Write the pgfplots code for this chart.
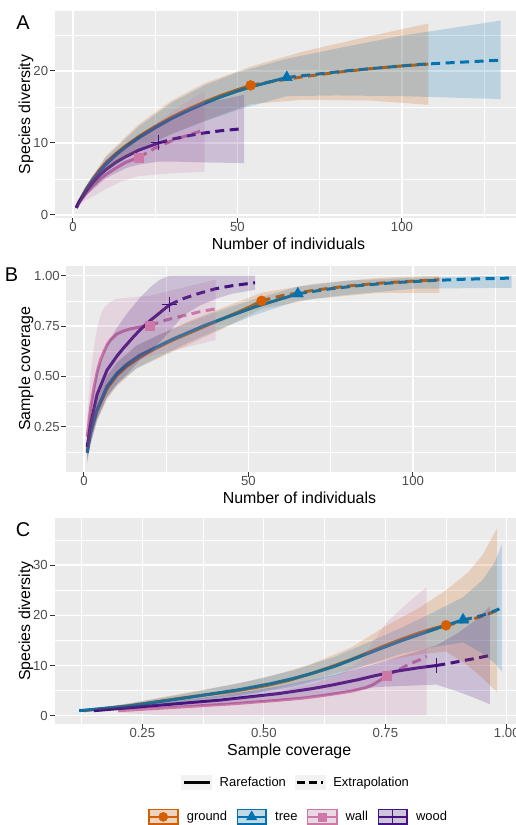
\documentclass[border=0pt]{standalone}
\usepackage{fontspec}
\setmainfont{Liberation Sans}
\usepackage{pgfplots}
\pgfplotsset{compat=1.18}
\definecolor{cGround}{HTML}{D55E00}
\definecolor{cTree}{HTML}{0072B2}
\definecolor{cWall}{HTML}{CC79A7}
\definecolor{cWood}{HTML}{46127F}
\definecolor{panelbg}{HTML}{EBEBEB}
\definecolor{gray30}{HTML}{4D4D4D}
\definecolor{gray20}{HTML}{333333}
\definecolor{keybg}{HTML}{F2F2F2}
\pgfplotsset{
  ggpanel/.style={
    scale only axis, anchor=south west,
    axis background/.style={fill=panelbg},
    axis line style={draw=none},
    grid=both,
    major grid style={draw=white, line width=1.2bp},
    minor grid style={draw=white, line width=0.6bp},
    tick align=outside, tick pos=left,
    major tick length=5bp, minor tick length=0bp,
    every tick/.style={draw=gray20, line width=1bp},
    tick label style={font=\fontsize{13.2}{14}\selectfont, text=gray30, inner sep=0pt},
    xticklabel style={anchor=north, yshift=1bp},
    every axis x label/.style={at={([yshift=-31.5bp]axis description cs:0.5,0)}, anchor=base, font=\fontsize{16}{18}\selectfont},
    clip=true,
  },
  rare/.style={line width=3bp, line join=round},
  extr/.style={line width=3bp, dash pattern=on 9bp off 5.5bp},
  band/.style={draw=none, fill opacity=0.2},
}
\begin{document}
\begin{tikzpicture}
\useasboundingbox (0,0) rectangle (516bp,825bp);
% ================= Panel A =================
\begin{axis}[ggpanel, at={(55bp,606.7bp)}, width=466.9bp, height=207.6bp,
  xmin=-5.45, xmax=136.45, ymin=-0.46, ymax=28.37,
  xtick={0,50,100}, xticklabels={0,50,100}, minor xtick={25,75,125},
  ytick={0,10,20}, yticklabels={0,10,20}, minor ytick={5,15,25},
  yticklabel style={anchor=east, xshift=-1.7bp},
  xlabel={Number of individuals},
  every axis y label/.style={at={([xshift=-25bp]axis description cs:0,0.5)}, rotate=90, anchor=base, font=\fontsize{16}{18}\selectfont},
  ylabel={Species diversity}]
\addplot[only marks, mark=*, mark size=5bp, color=cGround] coordinates {(54,18.0)};
\addplot[only marks, mark=triangle*, mark size=6.5bp, color=cTree] coordinates {(65,19.1)};
\addplot[only marks, mark=square*, mark size=4.5bp, color=cWall] coordinates {(20,8.0)};
\addplot[only marks, mark=+, mark size=7.5bp, color=cWood, line width=1bp] coordinates {(26,10.0)};
\addplot[rare, cGround] coordinates {(1,1) (2,1.95) (4,3.6) (6,5.0) (8,6.2) (10,7.2) (13,8.5) (16,9.6) (20,10.9) (25,12.3) (30,13.6) (35,14.7) (40,15.7) (45,16.6) (50,17.4) (54,18.0)};
\addplot[extr, cGround] coordinates {(54,18.0) (60,18.5) (70,19.2) (80,19.8) (90,20.3) (100,20.7) (108,20.95)};
\addplot[rare, cTree] coordinates {(1,1) (2,1.9) (4,3.5) (6,4.9) (8,6.0) (10,7.0) (13,8.3) (16,9.4) (20,10.7) (25,12.1) (30,13.4) (35,14.5) (40,15.5) (45,16.4) (50,17.2) (55,17.9) (60,18.5) (65,19.1)};
\addplot[extr, cTree] coordinates {(65,19.1) (75,19.6) (85,20.1) (95,20.5) (105,20.9) (115,21.15) (130,21.5)};
\addplot[rare, cWall] coordinates {(1,1) (2,1.8) (4,3.0) (6,4.0) (8,4.9) (10,5.6) (13,6.5) (16,7.3) (20,8.0)};
\addplot[extr, cWall] coordinates {(20,8.0) (25,9.3) (30,10.3) (35,11.1) (40,11.8)};
\addplot[rare, cWood] coordinates {(1,1) (2,1.9) (4,3.3) (6,4.5) (8,5.5) (10,6.3) (13,7.3) (16,8.1) (20,9.0) (23,9.5) (26,10.0)};
\addplot[extr, cWood] coordinates {(26,10) (30,10.5) (35,11.0) (40,11.4) (45,11.7) (52,12.0)};
\addplot[band, fill=cGround] coordinates {(1,1) (4,4.0) (10,8.2) (20,12.6) (30,15.9) (40,18.3) (54,20.6) (70,22.7) (90,24.8) (108,26.6) (108,15.3) (90,15.9) (70,16.0) (54,15.4) (40,13.1) (30,11.3) (20,9.2) (10,6.2) (4,3.2) (1,1)};
\addplot[band, fill=cTree] coordinates {(1,1) (4,3.9) (10,8.0) (20,12.3) (30,15.6) (40,18.0) (50,19.8) (65,21.7) (80,23.1) (100,24.9) (130,27.0) (130,16.1) (100,16.5) (80,16.6) (65,16.5) (50,14.6) (40,13.0) (30,11.2) (20,9.1) (10,6.0) (4,3.1) (1,1)};
\addplot[band, fill=cWall] coordinates {(1,1) (4,3.8) (6,5.5) (10,7.4) (16,9.5) (20,10.6) (25,12.5) (30,14.3) (35,15.8) (40,17.2) (40,6.0) (30,5.8) (20,5.4) (15,4.7) (10,3.6) (6,2.5) (4,2.1) (1,1)};
\addplot[band, fill=cWood] coordinates {(1,1) (4,3.9) (10,7.6) (16,9.7) (20,11.0) (26,12.7) (32,14.0) (40,15.5) (52,16.7) (52,7.2) (40,7.3) (32,7.4) (26,7.4) (20,7.0) (16,6.5) (10,5.1) (4,2.7) (1,1)};
\end{axis}
% ================= Panel B =================
\begin{axis}[ggpanel, at={(66bp,353.3bp)}, width=466.9bp, height=205.7bp,
  xmin=-5.45, xmax=136.45, ymin=0.0265, ymax=1.048,
  xtick={0,50,100}, xticklabels={0,50,100}, minor xtick={25,75,125},
  ytick={0.25,0.5,0.75,1}, yticklabels={0.25,0.50,0.75,1.00}, minor ytick={0.125,0.375,0.625,0.875},
  yticklabel style={anchor=east, xshift=-1bp},
  xlabel={Number of individuals},
  every axis y label/.style={at={([xshift=-36bp]axis description cs:0,0.5)}, rotate=90, anchor=base, font=\fontsize{16}{18}\selectfont},
  ylabel={Sample coverage}]
\addplot[only marks, mark=*, mark size=5bp, color=cGround] coordinates {(54,0.875)};
\addplot[only marks, mark=triangle*, mark size=6.5bp, color=cTree] coordinates {(65,0.91)};
\addplot[only marks, mark=square*, mark size=4.5bp, color=cWall] coordinates {(20,0.752)};
\addplot[only marks, mark=+, mark size=7.5bp, color=cWood, line width=1bp] coordinates {(26,0.855)};
\addplot[rare, cGround] coordinates {(1,0.13) (2,0.22) (4,0.33) (7,0.44) (10,0.505) (13,0.55) (17,0.595) (22,0.64) (27,0.68) (32,0.715) (37,0.75) (42,0.785) (47,0.82) (51,0.85) (54,0.875)};
\addplot[extr, cGround] coordinates {(54,0.875) (60,0.9) (70,0.928) (80,0.948) (90,0.963) (100,0.973) (108,0.98)};
\addplot[rare, cTree] coordinates {(1,0.12) (2,0.22) (4,0.335) (7,0.45) (10,0.515) (13,0.56) (17,0.605) (22,0.645) (27,0.685) (32,0.72) (37,0.755) (42,0.785) (47,0.815) (52,0.845) (58,0.875) (65,0.91)};
\addplot[extr, cTree] coordinates {(65,0.91) (75,0.935) (85,0.953) (95,0.966) (105,0.975) (115,0.982) (130,0.988)};
\addplot[rare, cWall] coordinates {(1,0.2) (2,0.34) (3,0.44) (4,0.52) (5,0.58) (6,0.62) (7,0.655) (8,0.68) (10,0.71) (12,0.725) (14,0.735) (17,0.745) (20,0.752)};
\addplot[extr, cWall] coordinates {(20,0.752) (25,0.78) (30,0.80) (35,0.82) (40,0.835)};
\addplot[rare, cWood] coordinates {(1,0.15) (2,0.26) (4,0.41) (7,0.53) (10,0.6) (12,0.64) (15,0.695) (17,0.73) (20,0.775) (23,0.815) (26,0.855)};
\addplot[extr, cWood] coordinates {(26,0.855) (30,0.885) (35,0.912) (40,0.935) (45,0.95) (52,0.965)};
\addplot[band, fill=cGround] coordinates {(1,0.19) (2,0.28) (4,0.39) (7,0.5) (10,0.565) (16,0.65) (22,0.70) (32,0.775) (42,0.84) (54,0.915) (70,0.96) (90,0.99) (108,1.0) (108,0.915) (90,0.915) (70,0.885) (54,0.835) (42,0.735) (32,0.66) (22,0.585) (16,0.54) (10,0.45) (7,0.385) (4,0.28) (2,0.17) (1,0.08)};
\addplot[band, fill=cTree] coordinates {(1,0.18) (2,0.28) (4,0.39) (7,0.505) (10,0.57) (16,0.655) (22,0.70) (32,0.77) (42,0.83) (52,0.885) (65,0.945) (80,0.975) (100,0.99) (130,1.0) (130,0.94) (100,0.935) (80,0.905) (65,0.875) (52,0.805) (42,0.74) (32,0.67) (22,0.59) (16,0.54) (10,0.46) (7,0.395) (4,0.28) (2,0.16) (1,0.07)};
\addplot[band, fill=cWall] coordinates {(1,0.3) (2,0.51) (3,0.64) (4,0.74) (5,0.8) (6,0.84) (8,0.87) (10,0.885) (13,0.89) (16,0.895) (20,0.9) (25,0.92) (30,0.94) (35,0.96) (40,0.98) (40,0.68) (35,0.66) (30,0.64) (25,0.62) (20,0.6) (16,0.58) (13,0.56) (10,0.52) (8,0.47) (6,0.4) (4,0.3) (2,0.17) (1,0.1)};
\addplot[band, fill=cWood] coordinates {(1,0.2) (2,0.35) (4,0.53) (7,0.66) (10,0.74) (13,0.81) (17,0.89) (20,0.94) (23,0.98) (26,1.0) (52,1.0) (52,0.93) (45,0.91) (40,0.885) (35,0.85) (30,0.8) (26,0.72) (23,0.67) (20,0.62) (17,0.58) (13,0.51) (10,0.46) (7,0.4) (4,0.29) (2,0.17) (1,0.1)};
\end{axis}
% ================= Panel C =================
\begin{axis}[ggpanel, at={(55bp,101bp)}, width=468.3bp, height=205.7bp,
  xmin=0.0703, xmax=1.034, ymin=-1.65, ymax=39.32,
  xtick={0.25,0.5,0.75,1}, xticklabels={0.25,0.50,0.75,1.00}, minor xtick={0.125,0.375,0.625,0.875},
  ytick={0,10,20,30}, yticklabels={0,10,20,30}, minor ytick={5,15,25,35},
  yticklabel style={anchor=east, xshift=-2bp},
  xlabel={Sample coverage},
  every axis y label/.style={at={([xshift=-25bp]axis description cs:0,0.5)}, rotate=90, anchor=base, font=\fontsize{16}{18}\selectfont},
  ylabel={Species diversity}]
\addplot[only marks, mark=*, mark size=5bp, color=cGround] coordinates {(0.875,18.0)};
\addplot[only marks, mark=triangle*, mark size=6.5bp, color=cTree] coordinates {(0.91,19.1)};
\addplot[only marks, mark=square*, mark size=4.5bp, color=cWall] coordinates {(0.752,8.0)};
\addplot[only marks, mark=+, mark size=7.5bp, color=cWood, line width=1bp] coordinates {(0.855,10.0)};
\addplot[rare, cGround] coordinates {(0.13,1) (0.22,1.95) (0.33,3.5) (0.44,4.9) (0.505,6.0) (0.55,7.0) (0.595,8.3) (0.64,9.8) (0.68,11.2) (0.715,12.6) (0.75,14.0) (0.785,15.3) (0.82,16.5) (0.85,17.4) (0.875,18.0)};
\addplot[extr, cGround] coordinates {(0.875,18.0) (0.9,18.5) (0.928,19.2) (0.948,19.8) (0.963,20.3) (0.973,20.7) (0.98,20.95)};
\addplot[rare, cTree] coordinates {(0.12,1) (0.22,1.9) (0.335,3.5) (0.45,5.2) (0.515,6.4) (0.56,7.4) (0.605,8.6) (0.645,9.8) (0.685,11.3) (0.72,12.6) (0.755,13.9) (0.785,15.0) (0.815,16.0) (0.845,17.0) (0.875,18.0) (0.91,19.1)};
\addplot[extr, cTree] coordinates {(0.91,19.1) (0.935,19.6) (0.953,20.1) (0.966,20.5) (0.975,20.9) (0.982,21.15) (0.988,21.5)};
\addplot[rare, cWall] coordinates {(0.2,1) (0.34,1.8) (0.44,2.4) (0.52,3.0) (0.58,3.5) (0.62,4.0) (0.655,4.5) (0.68,4.9) (0.71,5.6) (0.725,6.2) (0.735,6.8) (0.745,7.4) (0.752,8.0)};
\addplot[extr, cWall] coordinates {(0.752,8.0) (0.78,9.3) (0.8,10.3) (0.82,11.1) (0.835,11.8)};
\addplot[rare, cWood] coordinates {(0.15,1) (0.26,1.9) (0.41,3.1) (0.53,4.4) (0.6,5.4) (0.64,6.1) (0.695,7.2) (0.73,8.0) (0.775,8.9) (0.815,9.5) (0.855,10.0)};
\addplot[extr, cWood] coordinates {(0.855,10) (0.885,10.5) (0.912,11.0) (0.935,11.4) (0.95,11.7) (0.965,12.0)};
\addplot[band, fill=cGround] coordinates {(0.13,1) (0.22,2.4) (0.33,4.4) (0.44,6.3) (0.505,7.6) (0.595,10.2) (0.68,13.6) (0.75,17.8) (0.82,21.5) (0.875,25.0) (0.92,28.5) (0.95,32.0) (0.98,37.3) (0.98,4.7) (0.95,7.5) (0.92,10.0) (0.875,12.8) (0.82,12.2) (0.75,11.0) (0.68,9.3) (0.595,7.0) (0.505,5.0) (0.44,4.0) (0.33,2.8) (0.22,1.5) (0.13,1)};
\addplot[band, fill=cTree] coordinates {(0.12,1) (0.22,2.4) (0.335,4.3) (0.45,6.5) (0.56,9.0) (0.645,11.7) (0.72,14.8) (0.785,17.6) (0.845,20.4) (0.91,23.6) (0.95,27.0) (0.975,30.5) (0.99,34.2) (0.99,8.8) (0.975,10.5) (0.95,12.4) (0.91,14.6) (0.845,13.6) (0.785,12.4) (0.72,10.4) (0.645,7.9) (0.56,5.8) (0.45,3.9) (0.335,2.7) (0.22,1.4) (0.12,1)};
\addplot[band, fill=cWall] coordinates {(0.2,1) (0.3,1.9) (0.4,2.9) (0.5,4.2) (0.6,6.3) (0.65,8.0) (0.7,11.0) (0.752,18.5) (0.8,22.8) (0.835,25.6) (0.835,0.05) (0.3,0.05) (0.2,0.6)};
\addplot[band, fill=cWood] coordinates {(0.15,1) (0.26,2.3) (0.41,4.0) (0.53,5.8) (0.64,8.0) (0.73,10.3) (0.855,14.0) (0.9,16.5) (0.935,19.0) (0.965,21.7) (0.965,2.3) (0.935,3.5) (0.9,4.8) (0.855,6.2) (0.73,5.7) (0.64,4.2) (0.53,3.0) (0.41,2.2) (0.26,1.5) (0.15,1)};
\end{axis}
% ================= Legend: line type =================
\begin{axis}[at={(0bp,0bp)}, anchor=south west, scale only axis, width=516bp, height=825bp,
  hide axis, xmin=0, xmax=1, ymin=0, ymax=1,
  legend columns=2,
  legend style={at={(axis description cs:0.35078,0.05176)}, anchor=west, draw=none, fill=none,
    inner sep=0pt, outer sep=0pt, font=\fontsize{13}{14}\selectfont,
    nodes={inner sep=0pt},
    /tikz/every odd column/.style={column sep=8.3bp},
    /tikz/every even column/.style={column sep=8.7bp}},
  legend cell align=left]
\addlegendimage{legend image code/.code={\fill[keybg] (0bp,-7.2bp) rectangle (30bp,7.2bp); \draw[black, line width=2.7bp] (2.3bp,0bp) -- (28.3bp,0bp);}}
\addlegendentry{Rarefaction}
\addlegendimage{legend image code/.code={\fill[keybg] (0bp,-7.2bp) rectangle (30bp,7.2bp); \draw[black, line width=2.7bp, dash pattern=on 7.7bp off 4.3bp] (2.3bp,0bp) -- (28.3bp,0bp);}}
\addlegendentry{Extrapolation}
\end{axis}
% ================= Legend: groups =================
\begin{axis}[at={(0bp,0bp)}, anchor=south west, scale only axis, width=516bp, height=825bp,
  hide axis, xmin=0, xmax=1, ymin=0, ymax=1,
  legend columns=4,
  legend style={at={(axis description cs:0.28624,0.00982)}, anchor=west, draw=none, fill=none,
    inner sep=0pt, outer sep=0pt, font=\fontsize{13}{14}\selectfont,
    nodes={inner sep=0pt},
    /tikz/every odd column/.style={column sep=8bp},
    /tikz/every even column/.style={column sep=9bp}},
  legend cell align=left]
\addlegendimage{legend image code/.code={\fill[keybg] (0bp,-7.6bp) rectangle (29.6bp,7.6bp); \fill[cGround, fill opacity=0.2] (0bp,-7.6bp) rectangle (29.6bp,7.6bp); \draw[cGround, line width=1.2bp] (0.6bp,-7bp) rectangle (29bp,7bp); \draw[cGround, line width=2.7bp] (0.6bp,0bp) -- (29bp,0bp); \fill[cGround] (14.8bp,0bp) circle (4.6bp);}}
\addlegendentry{ground}
\addlegendimage{legend image code/.code={\fill[keybg] (0bp,-7.6bp) rectangle (29.6bp,7.6bp); \fill[cTree, fill opacity=0.2] (0bp,-7.6bp) rectangle (29.6bp,7.6bp); \draw[cTree, line width=1.2bp] (0.6bp,-7bp) rectangle (29bp,7bp); \draw[cTree, line width=2.7bp] (0.6bp,0bp) -- (29bp,0bp); \fill[cTree] (14.8bp,6bp) -- (20bp,-3bp) -- (9.6bp,-3bp) -- cycle;}}
\addlegendentry{tree}
\addlegendimage{legend image code/.code={\fill[keybg] (0bp,-7.6bp) rectangle (29.6bp,7.6bp); \fill[cWall, fill opacity=0.2] (0bp,-7.6bp) rectangle (29.6bp,7.6bp); \draw[cWall, line width=1.2bp] (0.6bp,-7bp) rectangle (29bp,7bp); \draw[cWall, line width=2.7bp] (0.6bp,0bp) -- (29bp,0bp); \fill[cWall] (10.8bp,-4bp) rectangle (18.8bp,4bp);}}
\addlegendentry{wall}
\addlegendimage{legend image code/.code={\fill[keybg] (0bp,-7.6bp) rectangle (29.6bp,7.6bp); \fill[cWood, fill opacity=0.2] (0bp,-7.6bp) rectangle (29.6bp,7.6bp); \draw[cWood, line width=1.2bp] (0.6bp,-7bp) rectangle (29bp,7bp); \draw[cWood, line width=2.7bp] (0.6bp,0bp) -- (29bp,0bp); \draw[cWood, line width=1bp] (14.8bp,-7bp) -- (14.8bp,7bp);}}
\addlegendentry{wood}
\end{axis}
% ================= Panel tags =================
\node[anchor=base, font=\fontsize{20}{20}\selectfont] at (23bp,795.7bp) {A};
\node[anchor=base, font=\fontsize{20}{20}\selectfont] at (11.5bp,543.3bp) {B};
\node[anchor=base, font=\fontsize{20}{20}\selectfont] at (23bp,288.7bp) {C};
\end{tikzpicture}
\end{document}
